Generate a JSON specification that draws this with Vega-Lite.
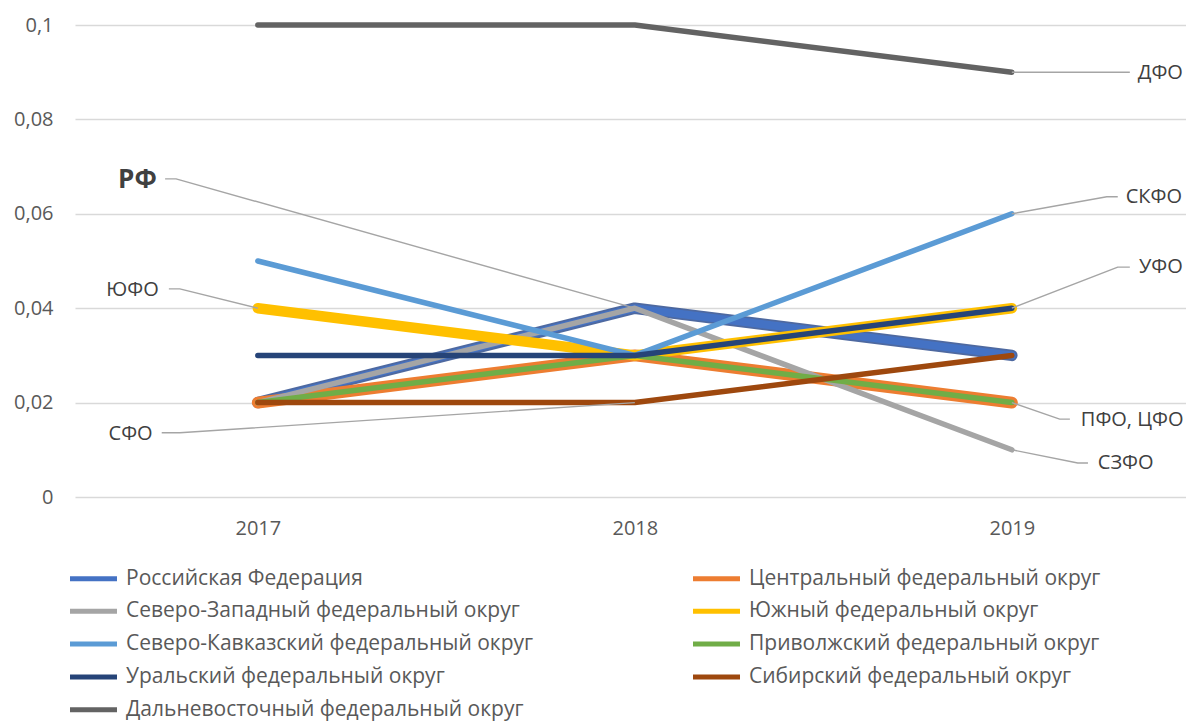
{
  "$schema": "https://vega.github.io/schema/vega-lite/v6.json",
  "width": 1111,
  "height": 472,
  "autosize": {"type": "none"},
  "padding": {"left": 75, "top": 25, "right": 0, "bottom": 227},
  "background": "white",
  "config": {
    "font": "Open Sans",
    "view": {"stroke": null},
    "axis": {"labelFont": "Open Sans", "labelColor": "#595959", "labelFontSize": 20},
    "line": {"strokeCap": "round", "strokeJoin": "round"}
  },
  "datasets": {
    "series": [
      {"region": "Российская Федерация", "year": 2017, "value": 0.02},
      {"region": "Российская Федерация", "year": 2018, "value": 0.04},
      {"region": "Российская Федерация", "year": 2019, "value": 0.03},
      {"region": "Центральный федеральный округ", "year": 2017, "value": 0.02},
      {"region": "Центральный федеральный округ", "year": 2018, "value": 0.03},
      {"region": "Центральный федеральный округ", "year": 2019, "value": 0.02},
      {"region": "Северо-Западный федеральный округ", "year": 2017, "value": 0.02},
      {"region": "Северо-Западный федеральный округ", "year": 2018, "value": 0.04},
      {"region": "Северо-Западный федеральный округ", "year": 2019, "value": 0.01},
      {"region": "Южный федеральный округ", "year": 2017, "value": 0.04},
      {"region": "Южный федеральный округ", "year": 2018, "value": 0.03},
      {"region": "Южный федеральный округ", "year": 2019, "value": 0.04},
      {"region": "Северо-Кавказский федеральный округ", "year": 2017, "value": 0.05},
      {"region": "Северо-Кавказский федеральный округ", "year": 2018, "value": 0.03},
      {"region": "Северо-Кавказский федеральный округ", "year": 2019, "value": 0.06},
      {"region": "Приволжский федеральный округ", "year": 2017, "value": 0.02},
      {"region": "Приволжский федеральный округ", "year": 2018, "value": 0.03},
      {"region": "Приволжский федеральный округ", "year": 2019, "value": 0.02},
      {"region": "Уральский федеральный округ", "year": 2017, "value": 0.03},
      {"region": "Уральский федеральный округ", "year": 2018, "value": 0.03},
      {"region": "Уральский федеральный округ", "year": 2019, "value": 0.04},
      {"region": "Сибирский федеральный округ", "year": 2017, "value": 0.02},
      {"region": "Сибирский федеральный округ", "year": 2018, "value": 0.02},
      {"region": "Сибирский федеральный округ", "year": 2019, "value": 0.03},
      {"region": "Дальневосточный федеральный округ", "year": 2017, "value": 0.1},
      {"region": "Дальневосточный федеральный округ", "year": 2018, "value": 0.1},
      {"region": "Дальневосточный федеральный округ", "year": 2019, "value": 0.09}
    ],
    "leaders": [
      {"label": "РФ", "seq": 1, "x": 2016.754, "y": 0.0674},
      {"label": "РФ", "seq": 2, "x": 2016.783, "y": 0.0674},
      {"label": "РФ", "seq": 3, "x": 2018, "y": 0.04},
      {"label": "ЮФО", "seq": 1, "x": 2016.764, "y": 0.0441},
      {"label": "ЮФО", "seq": 2, "x": 2016.793, "y": 0.0441},
      {"label": "ЮФО", "seq": 3, "x": 2017, "y": 0.04},
      {"label": "СФО", "seq": 1, "x": 2016.745, "y": 0.0136},
      {"label": "СФО", "seq": 2, "x": 2016.793, "y": 0.0136},
      {"label": "СФО", "seq": 3, "x": 2018, "y": 0.02},
      {"label": "ДФО", "seq": 1, "x": 2019, "y": 0.09},
      {"label": "ДФО", "seq": 2, "x": 2019.313, "y": 0.09},
      {"label": "СКФО", "seq": 1, "x": 2019, "y": 0.06},
      {"label": "СКФО", "seq": 2, "x": 2019.252, "y": 0.0636},
      {"label": "СКФО", "seq": 3, "x": 2019.281, "y": 0.0636},
      {"label": "УФО", "seq": 1, "x": 2019, "y": 0.04},
      {"label": "УФО", "seq": 2, "x": 2019.281, "y": 0.0487},
      {"label": "УФО", "seq": 3, "x": 2019.313, "y": 0.0487},
      {"label": "ПФО, ЦФО", "seq": 1, "x": 2019, "y": 0.02},
      {"label": "ПФО, ЦФО", "seq": 2, "x": 2019.127, "y": 0.0165},
      {"label": "ПФО, ЦФО", "seq": 3, "x": 2019.154, "y": 0.0165},
      {"label": "СЗФО", "seq": 1, "x": 2019, "y": 0.01},
      {"label": "СЗФО", "seq": 2, "x": 2019.175, "y": 0.0072},
      {"label": "СЗФО", "seq": 3, "x": 2019.202, "y": 0.0072}
    ],
    "labelsLeft": [
      {"text": "РФ", "x": 2016.732, "y": 0.0672},
      {"text": "ЮФО", "x": 2016.737, "y": 0.0439},
      {"text": "СФО", "x": 2016.721, "y": 0.0133}
    ],
    "labelsRight": [
      {"text": "ДФО", "x": 2019.334, "y": 0.0898},
      {"text": "СКФО", "x": 2019.302, "y": 0.0636},
      {"text": "УФО", "x": 2019.337, "y": 0.0487},
      {"text": "ПФО, ЦФО", "x": 2019.183, "y": 0.0163},
      {"text": "СЗФО", "x": 2019.228, "y": 0.0072}
    ]
  },
  "encoding": {
    "x": {"field": "year", "type": "quantitative", "scale": {"domain": [2016.515, 2019.462], "nice": false, "zero": false},
          "axis": {"values": [2017, 2018, 2019], "format": "d", "grid": false, "ticks": false, "domain": false, "labelPadding": 21, "title": null}},
    "y": {"field": "value", "type": "quantitative", "scale": {"domain": [0, 0.1], "nice": false},
          "axis": {"values": [0, 0.02, 0.04, 0.06, 0.08, 0.1], "labelExpr": "replace(format(datum.value, '~g'), '.', ',')", "grid": true, "gridColor": "#D9D9D9", "gridWidth": 1.5, "ticks": false, "domain": false, "labelPadding": 22, "title": null}}
  },
  "layer": [
    {
      "data": {"name": "series"},
      "transform": [{"filter": "datum.region === 'Российская Федерация'"}],
      "mark": {"type": "line", "color": "#2F4F8F", "strokeWidth": 11.5, "opacity": 0.85},
      "encoding": {}
    },
    {
      "data": {"name": "series"},
      "transform": [{"filter": "datum.region === 'Российская Федерация'"}],
      "mark": {"type": "line", "strokeWidth": 8},
      "encoding": {
        "color": {
          "field": "region", "type": "nominal",
          "scale": {
            "domain": ["Российская Федерация", "Центральный федеральный округ", "Северо-Западный федеральный округ", "Южный федеральный округ", "Северо-Кавказский федеральный округ", "Приволжский федеральный округ", "Уральский федеральный округ", "Сибирский федеральный округ", "Дальневосточный федеральный округ"],
            "range": ["#4472C4", "#ED7D31", "#A5A5A5", "#FFC000", "#5B9BD5", "#70AD47", "#264478", "#9E480E", "#636363"]
          },
          "legend": {
            "orient": "none", "legendX": 8, "legendY": 543, "columns": 2, "direction": "horizontal", "columnPadding": 156, "rowPadding": 10.8,
            "title": null, "padding": 0, "symbolType": "M-4,0L4,0", "symbolSize": 138, "symbolStrokeWidth": 5,
            "labelFontSize": 21, "labelFont": "Open Sans", "labelColor": "#595959", "labelOffset": 22, "labelLimit": 600,
            "encode": {"symbols": {"update": {"strokeCap": {"value": "round"}}}}
          }
        }
      }
    },
    {
      "data": {"name": "series"},
      "transform": [{"filter": "datum.region === 'Центральный федеральный округ'"}],
      "mark": {"type": "line", "strokeWidth": 12},
      "encoding": {"color": {"field": "region", "type": "nominal"}}
    },
    {
      "data": {"name": "series"},
      "transform": [{"filter": "datum.region === 'Северо-Западный федеральный округ'"}],
      "mark": {"type": "line", "strokeWidth": 5.5},
      "encoding": {"color": {"field": "region", "type": "nominal"}}
    },
    {
      "data": {"name": "series"},
      "transform": [{"filter": "datum.region === 'Южный федеральный округ'"}],
      "mark": {"type": "line", "strokeWidth": 10.5},
      "encoding": {"color": {"field": "region", "type": "nominal"}}
    },
    {
      "data": {"name": "series"},
      "transform": [{"filter": {"field": "region", "oneOf": ["Северо-Кавказский федеральный округ", "Приволжский федеральный округ", "Уральский федеральный округ", "Сибирский федеральный округ", "Дальневосточный федеральный округ"]}}],
      "mark": {"type": "line", "strokeWidth": 5.5},
      "encoding": {"color": {"field": "region", "type": "nominal"}}
    },
    {
      "data": {"name": "leaders"},
      "mark": {"type": "line", "color": "#A5A5A5", "strokeWidth": 1.4, "strokeCap": "butt"},
      "encoding": {
        "x": {"field": "x", "type": "quantitative"},
        "y": {"field": "y", "type": "quantitative"},
        "detail": {"field": "label"},
        "order": {"field": "seq"}
      }
    },
    {
      "data": {"name": "labelsLeft"},
      "transform": [{"filter": "datum.text !== 'РФ'"}],
      "mark": {"type": "text", "align": "right", "baseline": "middle", "fontSize": 20, "color": "#404040", "font": "Open Sans"},
      "encoding": {
        "x": {"field": "x", "type": "quantitative"},
        "y": {"field": "y", "type": "quantitative"},
        "text": {"field": "text"}
      }
    },
    {
      "data": {"name": "labelsLeft"},
      "transform": [{"filter": "datum.text === 'РФ'"}],
      "mark": {"type": "text", "align": "right", "baseline": "middle", "fontSize": 26, "fontWeight": "bold", "color": "#404040", "font": "Open Sans"},
      "encoding": {
        "x": {"field": "x", "type": "quantitative"},
        "y": {"field": "y", "type": "quantitative"},
        "text": {"field": "text"}
      }
    },
    {
      "data": {"name": "labelsRight"},
      "mark": {"type": "text", "align": "left", "baseline": "middle", "fontSize": 20, "color": "#404040", "font": "Open Sans"},
      "encoding": {
        "x": {"field": "x", "type": "quantitative"},
        "y": {"field": "y", "type": "quantitative"},
        "text": {"field": "text"}
      }
    }
  ]
}
